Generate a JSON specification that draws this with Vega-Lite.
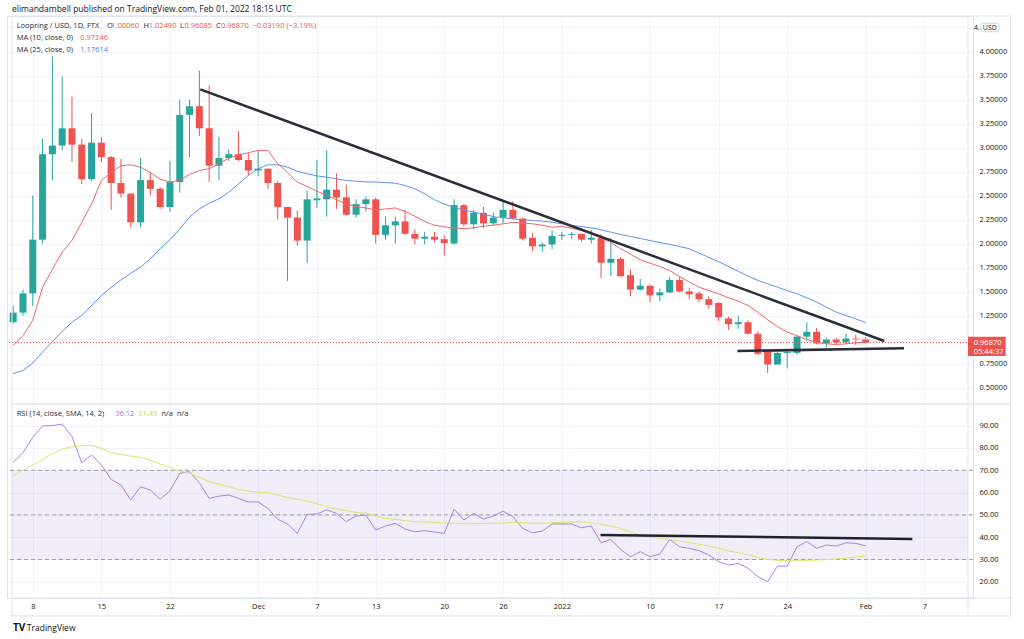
{
  "$schema": "https://vega.github.io/schema/vega-lite/v6.json",
  "width": 966,
  "height": 582,
  "autosize": {"type": "none"},
  "padding": {"left": 7, "top": 16, "right": 51, "bottom": 41},
  "background": "#ffffff",
  "config": {
    "font": "Open Sans",
    "view": {"stroke": "#e0e3eb"},
    "axis": {"domain": false, "ticks": false, "labelFont": "Open Sans", "labelColor": "#131722", "gridColor": "#f0f3fa", "labelOverlap": false, "labelSeparation": 0, "labelBound": false},
    "axisY": {"labelOverlap": false}
  },
  "datasets": {
    "bars": [
      {"d":"2021-11-06","o":1.18,"h":1.35,"l":1.17,"c":1.28,"ma10":0.94,"ma25":0.645,"rsi":73.5,"sma":67.5},
      {"d":"2021-11-07","o":1.28,"h":1.52,"l":1.25,"c":1.48,"ma10":1.04,"ma25":0.677,"rsi":77.9,"sma":70.1},
      {"d":"2021-11-08","o":1.48,"h":2.50,"l":1.35,"c":2.04,"ma10":1.20,"ma25":0.753,"rsi":84.8,"sma":72.4},
      {"d":"2021-11-09","o":2.04,"h":3.09,"l":2.00,"c":2.93,"ma10":1.545,"ma25":0.868,"rsi":89.9,"sma":74.6},
      {"d":"2021-11-10","o":2.93,"h":3.95,"l":2.66,"c":3.02,"ma10":1.73,"ma25":0.979,"rsi":90.1,"sma":77.6},
      {"d":"2021-11-11","o":3.02,"h":3.74,"l":2.97,"c":3.20,"ma10":1.91,"ma25":1.083,"rsi":90.7,"sma":79.4},
      {"d":"2021-11-12","o":3.20,"h":3.53,"l":2.85,"c":3.03,"ma10":2.03,"ma25":1.18,"rsi":85.1,"sma":80.6},
      {"d":"2021-11-13","o":3.03,"h":3.09,"l":2.62,"c":2.67,"ma10":2.22,"ma25":1.25,"rsi":73.4,"sma":81.0},
      {"d":"2021-11-14","o":2.67,"h":3.36,"l":2.65,"c":3.05,"ma10":2.41,"ma25":1.354,"rsi":76.8,"sma":81.2},
      {"d":"2021-11-15","o":3.05,"h":3.11,"l":2.85,"c":2.90,"ma10":2.656,"ma25":1.458,"rsi":72.4,"sma":79.8},
      {"d":"2021-11-16","o":2.90,"h":2.91,"l":2.35,"c":2.63,"ma10":2.74,"ma25":1.545,"rsi":65.9,"sma":77.9},
      {"d":"2021-11-17","o":2.63,"h":2.88,"l":2.48,"c":2.52,"ma10":2.81,"ma25":1.62,"rsi":63.4,"sma":77.1},
      {"d":"2021-11-18","o":2.52,"h":2.52,"l":2.17,"c":2.22,"ma10":2.82,"ma25":1.69,"rsi":56.7,"sma":76.4},
      {"d":"2021-11-19","o":2.22,"h":2.89,"l":2.17,"c":2.66,"ma10":2.795,"ma25":1.753,"rsi":62.6,"sma":75.8},
      {"d":"2021-11-20","o":2.66,"h":2.74,"l":2.50,"c":2.57,"ma10":2.74,"ma25":1.84,"rsi":61.1,"sma":74.6},
      {"d":"2021-11-21","o":2.57,"h":2.59,"l":2.36,"c":2.38,"ma10":2.67,"ma25":1.945,"rsi":57.0,"sma":72.8},
      {"d":"2021-11-22","o":2.38,"h":2.86,"l":2.33,"c":2.64,"ma10":2.64,"ma25":2.039,"rsi":60.8,"sma":71.2},
      {"d":"2021-11-23","o":2.64,"h":3.50,"l":2.53,"c":3.34,"ma10":2.66,"ma25":2.153,"rsi":68.6,"sma":69.7},
      {"d":"2021-11-24","o":3.34,"h":3.50,"l":2.90,"c":3.43,"ma10":2.72,"ma25":2.274,"rsi":69.4,"sma":68.6},
      {"d":"2021-11-25","o":3.43,"h":3.80,"l":3.12,"c":3.20,"ma10":2.76,"ma25":2.36,"rsi":64.4,"sma":66.8},
      {"d":"2021-11-26","o":3.20,"h":3.65,"l":2.64,"c":2.81,"ma10":2.78,"ma25":2.42,"rsi":57.4,"sma":64.9},
      {"d":"2021-11-27","o":2.81,"h":3.11,"l":2.66,"c":2.89,"ma10":2.83,"ma25":2.466,"rsi":58.4,"sma":63.8},
      {"d":"2021-11-28","o":2.89,"h":2.98,"l":2.86,"c":2.93,"ma10":2.89,"ma25":2.535,"rsi":58.9,"sma":62.6},
      {"d":"2021-11-29","o":2.93,"h":3.17,"l":2.86,"c":2.87,"ma10":2.92,"ma25":2.62,"rsi":57.4,"sma":61.4},
      {"d":"2021-11-30","o":2.87,"h":2.95,"l":2.71,"c":2.76,"ma10":2.945,"ma25":2.71,"rsi":55.8,"sma":60.7},
      {"d":"2021-12-01","o":2.76,"h":2.97,"l":2.70,"c":2.78,"ma10":2.97,"ma25":2.78,"rsi":55.8,"sma":60.1},
      {"d":"2021-12-02","o":2.78,"h":2.78,"l":2.57,"c":2.63,"ma10":2.97,"ma25":2.82,"rsi":52.9,"sma":59.9},
      {"d":"2021-12-03","o":2.63,"h":2.65,"l":2.25,"c":2.38,"ma10":2.83,"ma25":2.82,"rsi":48.0,"sma":58.9},
      {"d":"2021-12-04","o":2.38,"h":2.38,"l":1.61,"c":2.27,"ma10":2.74,"ma25":2.795,"rsi":45.9,"sma":57.8},
      {"d":"2021-12-05","o":2.27,"h":2.34,"l":1.98,"c":2.03,"ma10":2.64,"ma25":2.753,"rsi":41.7,"sma":57.0},
      {"d":"2021-12-06","o":2.03,"h":2.55,"l":1.80,"c":2.46,"ma10":2.594,"ma25":2.726,"rsi":50.2,"sma":56.2},
      {"d":"2021-12-07","o":2.45,"h":2.87,"l":2.37,"c":2.47,"ma10":2.545,"ma25":2.705,"rsi":50.4,"sma":54.9},
      {"d":"2021-12-08","o":2.46,"h":2.97,"l":2.28,"c":2.56,"ma10":2.50,"ma25":2.69,"rsi":52.2,"sma":53.7},
      {"d":"2021-12-09","o":2.56,"h":2.73,"l":2.36,"c":2.48,"ma10":2.458,"ma25":2.674,"rsi":50.7,"sma":52.6},
      {"d":"2021-12-10","o":2.48,"h":2.61,"l":2.29,"c":2.30,"ma10":2.41,"ma25":2.656,"rsi":46.9,"sma":51.9},
      {"d":"2021-12-11","o":2.30,"h":2.46,"l":2.27,"c":2.41,"ma10":2.385,"ma25":2.649,"rsi":49.5,"sma":51.1},
      {"d":"2021-12-12","o":2.41,"h":2.49,"l":2.33,"c":2.46,"ma10":2.37,"ma25":2.642,"rsi":49.9,"sma":50.7},
      {"d":"2021-12-13","o":2.46,"h":2.48,"l":2.00,"c":2.09,"ma10":2.35,"ma25":2.64,"rsi":43.2,"sma":49.5},
      {"d":"2021-12-14","o":2.09,"h":2.28,"l":2.04,"c":2.19,"ma10":2.36,"ma25":2.635,"rsi":45.0,"sma":48.4},
      {"d":"2021-12-15","o":2.19,"h":2.28,"l":2.00,"c":2.23,"ma10":2.37,"ma25":2.628,"rsi":46.2,"sma":48.0},
      {"d":"2021-12-16","o":2.23,"h":2.35,"l":2.09,"c":2.10,"ma10":2.333,"ma25":2.604,"rsi":43.6,"sma":47.4},
      {"d":"2021-12-17","o":2.10,"h":2.15,"l":1.99,"c":2.05,"ma10":2.285,"ma25":2.57,"rsi":42.4,"sma":46.9},
      {"d":"2021-12-18","o":2.05,"h":2.12,"l":1.99,"c":2.07,"ma10":2.23,"ma25":2.518,"rsi":42.9,"sma":46.8},
      {"d":"2021-12-19","o":2.07,"h":2.12,"l":2.01,"c":2.04,"ma10":2.19,"ma25":2.455,"rsi":42.3,"sma":46.6},
      {"d":"2021-12-20","o":2.045,"h":2.083,"l":1.875,"c":2.003,"ma10":2.175,"ma25":2.41,"rsi":41.7,"sma":46.3},
      {"d":"2021-12-21","o":2.00,"h":2.46,"l":1.99,"c":2.40,"ma10":2.16,"ma25":2.378,"rsi":52.6,"sma":46.2},
      {"d":"2021-12-22","o":2.40,"h":2.41,"l":2.18,"c":2.20,"ma10":2.155,"ma25":2.35,"rsi":47.7,"sma":46.0},
      {"d":"2021-12-23","o":2.20,"h":2.35,"l":2.15,"c":2.32,"ma10":2.163,"ma25":2.326,"rsi":50.7,"sma":46.0},
      {"d":"2021-12-24","o":2.32,"h":2.38,"l":2.16,"c":2.21,"ma10":2.18,"ma25":2.306,"rsi":48.1,"sma":46.2},
      {"d":"2021-12-25","o":2.21,"h":2.32,"l":2.19,"c":2.27,"ma10":2.19,"ma25":2.281,"rsi":49.5,"sma":46.2},
      {"d":"2021-12-26","o":2.27,"h":2.45,"l":2.21,"c":2.35,"ma10":2.205,"ma25":2.267,"rsi":51.7,"sma":46.3},
      {"d":"2021-12-27","o":2.35,"h":2.44,"l":2.25,"c":2.26,"ma10":2.22,"ma25":2.257,"rsi":49.2,"sma":46.6},
      {"d":"2021-12-28","o":2.26,"h":2.27,"l":2.03,"c":2.05,"ma10":2.215,"ma25":2.247,"rsi":43.9,"sma":46.5},
      {"d":"2021-12-29","o":2.06,"h":2.11,"l":1.92,"c":1.97,"ma10":2.205,"ma25":2.24,"rsi":42.0,"sma":46.2},
      {"d":"2021-12-30","o":1.97,"h":2.01,"l":1.91,"c":1.99,"ma10":2.19,"ma25":2.233,"rsi":42.7,"sma":46.2},
      {"d":"2021-12-31","o":1.99,"h":2.14,"l":1.94,"c":2.08,"ma10":2.17,"ma25":2.222,"rsi":45.9,"sma":46.5},
      {"d":"2022-01-01","o":2.08,"h":2.12,"l":2.04,"c":2.09,"ma10":2.177,"ma25":2.205,"rsi":45.9,"sma":46.6},
      {"d":"2022-01-02","o":2.09,"h":2.12,"l":2.05,"c":2.10,"ma10":2.16,"ma25":2.1875,"rsi":45.9,"sma":46.8},
      {"d":"2022-01-03","o":2.10,"h":2.10,"l":2.02,"c":2.04,"ma10":2.135,"ma25":2.177,"rsi":44.2,"sma":46.9},
      {"d":"2022-01-04","o":2.04,"h":2.14,"l":2.00,"c":2.06,"ma10":2.10,"ma25":2.163,"rsi":45.0,"sma":46.5},
      {"d":"2022-01-05","o":2.06,"h":2.10,"l":1.64,"c":1.80,"ma10":2.06,"ma25":2.143,"rsi":37.5,"sma":45.7},
      {"d":"2022-01-06","o":1.80,"h":2.06,"l":1.66,"c":1.84,"ma10":2.01,"ma25":2.118,"rsi":39.0,"sma":45.0},
      {"d":"2022-01-07","o":1.84,"h":1.86,"l":1.65,"c":1.66,"ma10":1.945,"ma25":2.094,"rsi":34.5,"sma":43.9},
      {"d":"2022-01-08","o":1.67,"h":1.73,"l":1.45,"c":1.52,"ma10":1.89,"ma25":2.073,"rsi":31.2,"sma":42.4},
      {"d":"2022-01-09","o":1.52,"h":1.63,"l":1.51,"c":1.56,"ma10":1.83,"ma25":2.052,"rsi":33.5,"sma":40.9},
      {"d":"2022-01-10","o":1.56,"h":1.57,"l":1.39,"c":1.46,"ma10":1.795,"ma25":2.031,"rsi":31.2,"sma":39.9},
      {"d":"2022-01-11","o":1.46,"h":1.53,"l":1.40,"c":1.49,"ma10":1.76,"ma25":2.01,"rsi":32.4,"sma":39.5},
      {"d":"2022-01-12","o":1.49,"h":1.65,"l":1.48,"c":1.62,"ma10":1.72,"ma25":1.99,"rsi":39.0,"sma":39.0},
      {"d":"2022-01-13","o":1.62,"h":1.65,"l":1.49,"c":1.50,"ma10":1.656,"ma25":1.969,"rsi":35.7,"sma":38.3},
      {"d":"2022-01-14","o":1.50,"h":1.54,"l":1.42,"c":1.47,"ma10":1.60,"ma25":1.945,"rsi":35.0,"sma":37.5},
      {"d":"2022-01-15","o":1.48,"h":1.50,"l":1.39,"c":1.42,"ma10":1.545,"ma25":1.90,"rsi":33.9,"sma":36.8},
      {"d":"2022-01-16","o":1.42,"h":1.45,"l":1.32,"c":1.36,"ma10":1.51,"ma25":1.855,"rsi":32.0,"sma":36.0},
      {"d":"2022-01-17","o":1.38,"h":1.39,"l":1.19,"c":1.23,"ma10":1.476,"ma25":1.81,"rsi":29.0,"sma":35.0},
      {"d":"2022-01-18","o":1.22,"h":1.24,"l":1.10,"c":1.16,"ma10":1.434,"ma25":1.76,"rsi":27.5,"sma":33.8},
      {"d":"2022-01-19","o":1.16,"h":1.25,"l":1.11,"c":1.18,"ma10":1.40,"ma25":1.71,"rsi":28.2,"sma":33.0},
      {"d":"2022-01-20","o":1.18,"h":1.20,"l":1.05,"c":1.06,"ma10":1.354,"ma25":1.66,"rsi":26.0,"sma":32.0},
      {"d":"2022-01-21","o":1.06,"h":1.08,"l":0.84,"c":0.85,"ma10":1.285,"ma25":1.615,"rsi":22.3,"sma":30.9},
      {"d":"2022-01-22","o":0.87,"h":0.88,"l":0.65,"c":0.74,"ma10":1.205,"ma25":1.58,"rsi":20.0,"sma":30.0},
      {"d":"2022-01-23","o":0.74,"h":0.87,"l":0.74,"c":0.86,"ma10":1.135,"ma25":1.545,"rsi":27.0,"sma":29.6},
      {"d":"2022-01-24","o":0.86,"h":0.88,"l":0.70,"c":0.87,"ma10":1.076,"ma25":1.51,"rsi":27.0,"sma":29.4},
      {"d":"2022-01-25","o":0.86,"h":1.04,"l":0.84,"c":1.03,"ma10":1.04,"ma25":1.476,"rsi":35.7,"sma":29.4},
      {"d":"2022-01-26","o":1.03,"h":1.18,"l":0.99,"c":1.08,"ma10":1.00,"ma25":1.434,"rsi":38.0,"sma":29.6},
      {"d":"2022-01-27","o":1.08,"h":1.12,"l":0.95,"c":0.96,"ma10":0.97,"ma25":1.39,"rsi":35.0,"sma":29.7},
      {"d":"2022-01-28","o":0.96,"h":1.02,"l":0.92,"c":1.00,"ma10":0.955,"ma25":1.337,"rsi":36.5,"sma":29.9},
      {"d":"2022-01-29","o":1.00,"h":1.02,"l":0.95,"c":0.97,"ma10":0.948,"ma25":1.285,"rsi":36.0,"sma":30.2},
      {"d":"2022-01-30","o":0.97,"h":1.06,"l":0.95,"c":1.01,"ma10":0.955,"ma25":1.25,"rsi":37.5,"sma":30.6},
      {"d":"2022-01-31","o":1.01,"h":1.05,"l":0.94,"c":1.0006,"ma10":0.965,"ma25":1.215,"rsi":37.2,"sma":31.1},
      {"d":"2022-02-01","o":1.0006,"h":1.0249,"l":0.96085,"c":0.9687,"ma10":0.97246,"ma25":1.17614,"rsi":36.12,"sma":31.49}
    ],
    "trend": [
      {"name":"down","d":"2021-11-25T02:24:00Z","p":3.606},
      {"name":"down","d":"2022-02-02T21:36:00Z","p":0.984},
      {"name":"support","d":"2022-01-18T22:05:00Z","p":0.880},
      {"name":"support","d":"2022-02-04T22:05:00Z","p":0.908}
    ],
    "rsiTrend": [
      {"d":"2022-01-04T22:48:00Z","r":40.96},
      {"d":"2022-02-05T18:29:00Z","r":39.17}
    ],
    "levels": [{"lvl":70},{"lvl":50},{"lvl":30}],
    "hgrid": [{"g":1},{"g":4.25}]
  },
  "layer": [
    {
      "layer": [
        {
          "data": {"name": "bars"},
          "mark": {"type": "rule", "strokeWidth": 1},
          "encoding": {
            "x": {"field": "d", "type": "temporal", "title": null,
              "scale": {"type": "utc", "nice": false, "domain": [
                {"year":2021,"month":11,"date":5,"hours":21,"minutes":6,"utc":true},
                {"year":2022,"month":2,"date":11,"hours":10,"minutes":48,"utc":true}]},
              "axis": {"title": null, "orient": "bottom", "grid": true, "gridColor": "#f0f3fa",
                "values": [1636329600000,1636934400000,1637539200000,1638316800000,1638835200000,1639353600000,1639958400000,1640476800000,1640995200000,1641772800000,1642377600000,1642982400000,1643673600000,1644192000000],
                "labelExpr": "utcdate(datum.value) == 1 ? (utcmonth(datum.value) == 0 ? utcFormat(datum.value, '%Y') : utcFormat(datum.value, '%b')) : '' + utcdate(datum.value)",
                "labelFontSize": 7.5, "labelPadding": 4, "labelOverlap": false, "labelFlush": false, "labelColor": "#131722"}},
            "y": {"field": "l", "type": "quantitative", "title": null,
              "scale": {"nice": false, "zero": false, "domain": [-1.6927, 4.3698]},
              "axis": {"title": null, "orient": "right", "grid": true, "gridColor": "#f0f3fa",
                "values": [0.5,0.75,1.25,1.5,1.75,2,2.25,2.5,2.75,3,3.25,3.5,3.75,4],
                "format": ".5f",
                "labelOverlap": false, "labelFlush": false, "labelSeparation": 0, "labelBound": false,
                "labelFontSize": 7.5, "labelPadding": 6, "labelColor": "#131722"}},
            "y2": {"field": "h"},
            "color": {"condition": {"test": "datum.c >= datum.o", "value": "#26a69a"}, "value": "#ef5350"}
          }
        },
        {
          "data": {"name": "hgrid"},
          "mark": {"type": "rule", "color": "#f0f3fa", "strokeWidth": 1},
          "encoding": {"y": {"field": "g", "type": "quantitative", "title": null}}
        },
        {
          "data": {"name": "bars"},
          "mark": {"type": "bar", "size": 7},
          "encoding": {
            "x": {"field": "d", "type": "temporal"},
            "y": {"field": "o", "type": "quantitative", "title": null},
            "y2": {"field": "c"},
            "color": {"condition": {"test": "datum.c >= datum.o", "value": "#26a69a"}, "value": "#ef5350"}
          }
        },
        {
          "data": {"name": "bars"},
          "mark": {"type": "line", "color": "#f0676b", "strokeWidth": 1},
          "encoding": {
            "x": {"field": "d", "type": "temporal"},
            "y": {"field": "ma10", "type": "quantitative", "title": null}
          }
        },
        {
          "data": {"name": "bars"},
          "mark": {"type": "line", "color": "#5e92f3", "strokeWidth": 1},
          "encoding": {
            "x": {"field": "d", "type": "temporal"},
            "y": {"field": "ma25", "type": "quantitative", "title": null}
          }
        },
        {
          "data": {"values": [{}]},
          "mark": {"type": "rule", "color": "#ef5350", "strokeDash": [1, 2], "strokeWidth": 1},
          "encoding": {"y": {"datum": 0.9687}}
        },
        {
          "data": {"name": "trend"},
          "mark": {"type": "line", "color": "#2a2e39", "strokeWidth": 2.5},
          "encoding": {
            "x": {"field": "d", "type": "temporal"},
            "y": {"field": "p", "type": "quantitative", "title": null},
            "detail": {"field": "name"}
          }
        },
        {
          "data": {"values": [{}]},
          "mark": {"type": "rule", "color": "#d8dbe2", "strokeWidth": 1},
          "encoding": {
            "x": {"datum": {"year":2021,"month":11,"date":5,"hours":21,"minutes":6,"utc":true}, "type": "temporal"},
            "x2": {"datum": {"year":2022,"month":2,"date":15,"hours":19,"minutes":12,"utc":true}},
            "y": {"datum": 0.3281}
          }
        },
        {
          "data": {"values": [{}]},
          "mark": {"type": "rule", "color": "#e0e3eb", "strokeWidth": 1},
          "encoding": {
            "x": {"datum": {"year":2021,"month":11,"date":5,"hours":21,"minutes":6,"utc":true}, "type": "temporal"},
            "x2": {"datum": {"year":2022,"month":2,"date":15,"hours":19,"minutes":12,"utc":true}},
            "y": {"datum": 4.3698}
          }
        },
        {
          "data": {"values": [{}]},
          "mark": {"type": "rule", "color": "#e0e3eb", "strokeWidth": 1},
          "encoding": {
            "x": {"datum": {"year":2021,"month":11,"date":5,"hours":21,"minutes":6,"utc":true}, "type": "temporal"},
            "x2": {"datum": {"year":2022,"month":2,"date":15,"hours":19,"minutes":12,"utc":true}},
            "y": {"datum": -1.6927}
          }
        },
        {
          "data": {"values": [{}]},
          "mark": {"type": "rule", "color": "#e0e3eb", "strokeWidth": 1},
          "encoding": {
            "x": {"datum": {"year":2021,"month":11,"date":5,"hours":21,"minutes":6,"utc":true}, "type": "temporal"},
            "x2": {"datum": {"year":2022,"month":2,"date":15,"hours":19,"minutes":12,"utc":true}},
            "y": {"datum": -1.88}
          }
        },
        {
          "data": {"values": [{}]},
          "mark": {"type": "rule", "color": "#e0e3eb", "strokeWidth": 1},
          "encoding": {
            "x": {"datum": {"year":2022,"month":2,"date":15,"hours":19,"minutes":12,"utc":true}, "type": "temporal"},
            "y": {"datum": 4.3698},
            "y2": {"datum": -1.88}
          }
        },
        {
          "data": {"values": [{}]},
          "mark": {"type": "rule", "color": "#e0e3eb", "strokeWidth": 1},
          "encoding": {
            "x": {"datum": {"year":2022,"month":2,"date":11,"hours":10,"minutes":48,"utc":true}, "type": "temporal"},
            "y": {"datum": 4.3698},
            "y2": {"datum": -1.88}
          }
        },
        {
          "data": {"values": [{}]},
          "mark": {"type": "rule", "color": "#e0e3eb", "strokeWidth": 1},
          "encoding": {
            "x": {"datum": {"year":2021,"month":11,"date":5,"hours":21,"minutes":6,"utc":true}, "type": "temporal"},
            "y": {"datum": 4.3698},
            "y2": {"datum": -1.88}
          }
        },
        {
          "data": {"values": [{}]},
          "mark": {"type": "text", "text": "4.", "align": "left", "baseline": "middle", "fontSize": 7.5, "color": "#131722"},
          "encoding": {
            "x": {"datum": {"year":2022,"month":2,"date":12,"hours":1,"minutes":0,"utc":true}, "type": "temporal"},
            "y": {"datum": 4.25}
          }
        },
        {
          "data": {"values": [{}]},
          "mark": {"type": "rect", "fill": "#ffffff", "stroke": "#d1d4dc", "strokeWidth": 1, "cornerRadius": 2},
          "encoding": {
            "x": {"datum": {"year":2022,"month":2,"date":12,"hours":18,"minutes":29,"utc":true}, "type": "temporal"},
            "x2": {"datum": {"year":2022,"month":2,"date":14,"hours":14,"minutes":53,"utc":true}},
            "y": {"datum": 4.294},
            "y2": {"datum": 4.206}
          }
        },
        {
          "data": {"values": [{}]},
          "mark": {"type": "text", "text": "USD", "align": "center", "baseline": "middle", "fontSize": 7, "color": "#131722"},
          "encoding": {
            "x": {"datum": {"year":2022,"month":2,"date":13,"hours":16,"minutes":19,"utc":true}, "type": "temporal"},
            "y": {"datum": 4.25}
          }
        },
        {
          "data": {"values": [{}]},
          "mark": {"type": "rect", "fill": "#ef5350"},
          "encoding": {
            "x": {"datum": {"year":2022,"month":2,"date":11,"hours":10,"minutes":48,"utc":true}, "type": "temporal"},
            "x2": {"datum": {"year":2022,"month":2,"date":15,"hours":7,"minutes":0,"utc":true}},
            "y": {"datum": 1.0292},
            "y2": {"datum": 0.828}
          }
        },
        {
          "data": {"values": [{}]},
          "mark": {"type": "text", "text": "0.96870", "align": "left", "baseline": "middle", "fontSize": 7.5, "color": "#ffffff"},
          "encoding": {
            "x": {"datum": {"year":2022,"month":2,"date":12,"hours":1,"minutes":0,"utc":true}, "type": "temporal"},
            "y": {"datum": 0.9667}
          }
        },
        {
          "data": {"values": [{}]},
          "mark": {"type": "text", "text": "05:44:37", "align": "left", "baseline": "middle", "fontSize": 7.5, "color": "#ffffff"},
          "encoding": {
            "x": {"datum": {"year":2022,"month":2,"date":12,"hours":1,"minutes":0,"utc":true}, "type": "temporal"},
            "y": {"datum": 0.873}
          }
        },
        {
          "data": {"values": [{}]},
          "mark": {"type": "text", "text": "elimandambell published on TradingView.com, Feb 01, 2022 18:15 UTC", "align": "left", "baseline": "middle", "fontSize": 8.5, "color": "#131722"},
          "encoding": {
            "x": {"datum": {"year":2021,"month":11,"date":5,"hours":21,"minutes":6,"utc":true}, "type": "temporal"},
            "y": {"datum": 4.4396}
          }
        },
        {
          "data": {"values": [{}]},
          "mark": {"type": "text", "text": "Loopring / USD, 1D, FTX", "align": "left", "baseline": "middle", "fontSize": 7.5, "color": "#2a2e39"},
          "encoding": {
            "x": {"datum": {"year":2021,"month":11,"date":6,"hours":8,"minutes":30,"utc":true}, "type": "temporal"},
            "y": {"datum": 4.2656}
          }
        },
        {
          "data": {"values": [{}]},
          "mark": {"type": "text", "text": "O", "align": "left", "baseline": "middle", "fontSize": 7.5, "color": "#2a2e39"},
          "encoding": {
            "x": {"datum": {"year":2021,"month":11,"date":15,"hours":14,"minutes":0,"utc":true}, "type": "temporal"},
            "y": {"datum": 4.2656}
          }
        },
        {
          "data": {"values": [{}]},
          "mark": {"type": "text", "text": "1.00060", "align": "left", "baseline": "middle", "fontSize": 7.5, "color": "#ef5350"},
          "encoding": {
            "x": {"datum": {"year":2021,"month":11,"date":16,"hours":0,"minutes":30,"utc":true}, "type": "temporal"},
            "y": {"datum": 4.2656}
          }
        },
        {
          "data": {"values": [{}]},
          "mark": {"type": "text", "text": "H", "align": "left", "baseline": "middle", "fontSize": 7.5, "color": "#2a2e39"},
          "encoding": {
            "x": {"datum": {"year":2021,"month":11,"date":19,"hours":7,"minutes":30,"utc":true}, "type": "temporal"},
            "y": {"datum": 4.2656}
          }
        },
        {
          "data": {"values": [{}]},
          "mark": {"type": "text", "text": "1.02490", "align": "left", "baseline": "middle", "fontSize": 7.5, "color": "#ef5350"},
          "encoding": {
            "x": {"datum": {"year":2021,"month":11,"date":19,"hours":20,"minutes":0,"utc":true}, "type": "temporal"},
            "y": {"datum": 4.2656}
          }
        },
        {
          "data": {"values": [{}]},
          "mark": {"type": "text", "text": "L", "align": "left", "baseline": "middle", "fontSize": 7.5, "color": "#2a2e39"},
          "encoding": {
            "x": {"datum": {"year":2021,"month":11,"date":23,"hours":0,"minutes":29,"utc":true}, "type": "temporal"},
            "y": {"datum": 4.2656}
          }
        },
        {
          "data": {"values": [{}]},
          "mark": {"type": "text", "text": "0.96085", "align": "left", "baseline": "middle", "fontSize": 7.5, "color": "#ef5350"},
          "encoding": {
            "x": {"datum": {"year":2021,"month":11,"date":23,"hours":11,"minutes":30,"utc":true}, "type": "temporal"},
            "y": {"datum": 4.2656}
          }
        },
        {
          "data": {"values": [{}]},
          "mark": {"type": "text", "text": "C", "align": "left", "baseline": "middle", "fontSize": 7.5, "color": "#2a2e39"},
          "encoding": {
            "x": {"datum": {"year":2021,"month":11,"date":26,"hours":16,"minutes":30,"utc":true}, "type": "temporal"},
            "y": {"datum": 4.2656}
          }
        },
        {
          "data": {"values": [{}]},
          "mark": {"type": "text", "text": "0.96870", "align": "left", "baseline": "middle", "fontSize": 7.5, "color": "#ef5350"},
          "encoding": {
            "x": {"datum": {"year":2021,"month":11,"date":27,"hours":5,"minutes":0,"utc":true}, "type": "temporal"},
            "y": {"datum": 4.2656}
          }
        },
        {
          "data": {"values": [{}]},
          "mark": {"type": "text", "text": "−0.03190 (−3.19%)", "align": "left", "baseline": "middle", "fontSize": 7.5, "color": "#ef5350"},
          "encoding": {
            "x": {"datum": {"year":2021,"month":11,"date":30,"hours":10,"minutes":5,"utc":true}, "type": "temporal"},
            "y": {"datum": 4.2656}
          }
        },
        {
          "data": {"values": [{}]},
          "mark": {"type": "text", "text": "MA (10, close, 0)", "align": "left", "baseline": "middle", "fontSize": 7.5, "color": "#2a2e39"},
          "encoding": {
            "x": {"datum": {"year":2021,"month":11,"date":6,"hours":8,"minutes":30,"utc":true}, "type": "temporal"},
            "y": {"datum": 4.1375}
          }
        },
        {
          "data": {"values": [{}]},
          "mark": {"type": "text", "text": "0.97246", "align": "left", "baseline": "middle", "fontSize": 7.5, "color": "#f05a5e"},
          "encoding": {
            "x": {"datum": {"year":2021,"month":11,"date":12,"hours":20,"minutes":22,"utc":true}, "type": "temporal"},
            "y": {"datum": 4.1375}
          }
        },
        {
          "data": {"values": [{}]},
          "mark": {"type": "text", "text": "MA (25, close, 0)", "align": "left", "baseline": "middle", "fontSize": 7.5, "color": "#2a2e39"},
          "encoding": {
            "x": {"datum": {"year":2021,"month":11,"date":6,"hours":8,"minutes":30,"utc":true}, "type": "temporal"},
            "y": {"datum": 4.0156}
          }
        },
        {
          "data": {"values": [{}]},
          "mark": {"type": "text", "text": "1.17614", "align": "left", "baseline": "middle", "fontSize": 7.5, "color": "#4c84f3"},
          "encoding": {
            "x": {"datum": {"year":2021,"month":11,"date":12,"hours":20,"minutes":22,"utc":true}, "type": "temporal"},
            "y": {"datum": 4.0156}
          }
        }
      ]
    },
    {
      "layer": [
        {
          "data": {"values": [{}]},
          "mark": {"type": "rect", "fill": "#7e57c2", "opacity": 0.1},
          "encoding": {
            "x": {"datum": {"year":2021,"month":11,"date":5,"hours":21,"minutes":6,"utc":true}, "type": "temporal"},
            "x2": {"datum": {"year":2022,"month":2,"date":11,"hours":10,"minutes":48,"utc":true}},
            "y": {"datum": 70, "type": "quantitative", "title": null,
              "scale": {"nice": false, "zero": false, "domain": [12.7, 273.8]},
              "axis": {"title": null, "orient": "right", "grid": true, "gridColor": "#f0f3fa",
                "values": [20,30,40,50,60,70,80,90], "format": ".2f",
                "labelOverlap": false, "labelFlush": false,
                "labelFontSize": 7.5, "labelPadding": 6, "labelColor": "#131722"}},
            "y2": {"datum": 30}
          }
        },
        {
          "data": {"name": "levels"},
          "mark": {"type": "rule", "color": "#787b86", "strokeDash": [4, 3], "strokeWidth": 1, "opacity": 0.7},
          "encoding": {
            "y": {"field": "lvl", "type": "quantitative", "title": null}
          }
        },
        {
          "data": {"name": "bars"},
          "mark": {"type": "line", "color": "#b07fe6", "strokeWidth": 1},
          "encoding": {
            "x": {"field": "d", "type": "temporal"},
            "y": {"field": "rsi", "type": "quantitative", "title": null}
          }
        },
        {
          "data": {"name": "bars"},
          "mark": {"type": "line", "color": "#dbe665", "strokeWidth": 1},
          "encoding": {
            "x": {"field": "d", "type": "temporal"},
            "y": {"field": "sma", "type": "quantitative", "title": null}
          }
        },
        {
          "data": {"name": "rsiTrend"},
          "mark": {"type": "line", "color": "#1e222d", "strokeWidth": 2.5},
          "encoding": {
            "x": {"field": "d", "type": "temporal"},
            "y": {"field": "r", "type": "quantitative", "title": null}
          }
        },
        {
          "data": {"values": [{}]},
          "mark": {"type": "text", "text": "RSI (14, close, SMA, 14, 2)", "align": "left", "baseline": "middle", "fontSize": 7.5, "color": "#2a2e39"},
          "encoding": {
            "x": {"datum": {"year":2021,"month":11,"date":6,"hours":8,"minutes":30,"utc":true}, "type": "temporal"},
            "y": {"datum": 95.11}
          }
        },
        {
          "data": {"values": [{}]},
          "mark": {"type": "text", "text": "36.12", "align": "left", "baseline": "middle", "fontSize": 7.5, "color": "#a474e0"},
          "encoding": {
            "x": {"datum": {"year":2021,"month":11,"date":16,"hours":10,"minutes":0,"utc":true}, "type": "temporal"},
            "y": {"datum": 95.11}
          }
        },
        {
          "data": {"values": [{}]},
          "mark": {"type": "text", "text": "31.49", "align": "left", "baseline": "middle", "fontSize": 7.5, "color": "#c9d640"},
          "encoding": {
            "x": {"datum": {"year":2021,"month":11,"date":18,"hours":18,"minutes":0,"utc":true}, "type": "temporal"},
            "y": {"datum": 95.11}
          }
        },
        {
          "data": {"values": [{}]},
          "mark": {"type": "text", "text": "n/a", "align": "left", "baseline": "middle", "fontSize": 7.5, "color": "#2a2e39"},
          "encoding": {
            "x": {"datum": {"year":2021,"month":11,"date":21,"hours":3,"minutes":0,"utc":true}, "type": "temporal"},
            "y": {"datum": 95.11}
          }
        },
        {
          "data": {"values": [{}]},
          "mark": {"type": "text", "text": "n/a", "align": "left", "baseline": "middle", "fontSize": 7.5, "color": "#2a2e39"},
          "encoding": {
            "x": {"datum": {"year":2021,"month":11,"date":22,"hours":17,"minutes":0,"utc":true}, "type": "temporal"},
            "y": {"datum": 95.11}
          }
        },
        {
          "data": {"values": [{}]},
          "mark": {"type": "text", "text": "TV", "align": "left", "baseline": "middle", "fontSize": 10, "fontWeight": "bold", "color": "#131722"},
          "encoding": {
            "x": {"datum": {"year":2021,"month":11,"date":5,"hours":23,"minutes":31,"utc":true}, "type": "temporal"},
            "y": {"datum": -0.76}
          }
        },
        {
          "data": {"values": [{}]},
          "mark": {"type": "text", "text": "TradingView", "align": "left", "baseline": "middle", "fontSize": 8.5, "color": "#131722"},
          "encoding": {
            "x": {"datum": {"year":2021,"month":11,"date":7,"hours":9,"minutes":27,"utc":true}, "type": "temporal"},
            "y": {"datum": -0.76}
          }
        }
      ]
    }
  ],
  "resolve": {"scale": {"y": "independent"}}
}
